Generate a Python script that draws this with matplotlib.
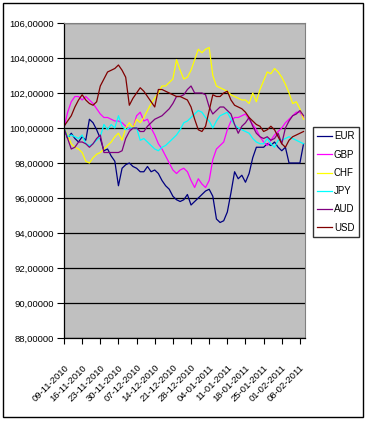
import matplotlib
matplotlib.use("Agg")
import matplotlib.pyplot as plt
from matplotlib.patches import Rectangle

plt.rcParams['font.family'] = ['Liberation Sans', 'DejaVu Sans']

tick_labels = ["09-11-2010", "16-11-2010", "23-11-2010", "30-11-2010", "07-12-2010",
               "14-12-2010", "21-12-2010", "28-12-2010", "04-01-2011", "11-01-2011",
               "18-01-2011", "25-01-2011", "01-02-2011", "08-02-2011"]

eur = [100.0, 99.4, 99.7, 99.4, 99.2, 99.5, 99.3, 100.5, 100.3, 99.9,
       99.4, 98.7, 98.8, 98.4, 98.1, 96.7, 97.7, 97.9, 98.0, 97.8,
       97.7, 97.5, 97.5, 97.8, 97.5, 97.6, 97.4, 97.0, 96.7, 96.5,
       96.1, 95.9, 95.8, 95.9, 96.2, 95.6, 95.8, 96.0, 96.2, 96.4,
       96.5, 96.1, 94.8, 94.6, 94.7, 95.2, 96.3, 97.5, 97.1, 97.3,
       96.9, 97.4, 98.3, 98.9, 98.9, 98.9, 99.1, 99.0, 99.2, 98.9,
       98.7, 98.9, 98.0, 98.0, 98.0, 98.0, 99.1]
gbp = [100.0, 100.9, 101.5, 101.8, 101.8, 101.6, 101.8, 101.6, 101.4, 101.1,
       100.8, 100.6, 100.6, 100.5, 100.4, 100.4, 100.3, 100.1, 99.9, 100.0,
       100.7, 100.9, 100.4, 100.5, 100.0, 99.6, 99.1, 98.8, 98.4, 98.0,
       97.6, 97.4, 97.6, 97.7, 97.5, 97.0, 96.6, 97.1, 96.8, 96.6,
       97.0, 98.2, 98.8, 99.0, 99.2, 99.9, 100.4, 100.6, 100.6, 100.7,
       100.8, 100.5, 100.2, 99.9, 99.5, 99.2, 99.0, 99.3, 99.6, 99.8,
       100.0, 100.3, 100.5, 100.7, 100.9, 100.9, 100.6]
chf = [100.0, 99.6, 99.1, 98.9, 98.8, 98.6, 98.1, 98.0, 98.3, 98.5,
       98.6, 98.8, 99.0, 99.2, 99.5, 99.7, 99.3, 100.0, 100.3, 100.0,
       100.5, 100.3, 100.6, 101.0, 101.4, 101.7, 102.0, 102.4, 102.4, 102.6,
       102.8, 103.9, 103.3, 102.8, 102.9, 103.3, 103.9, 104.5, 104.3, 104.5,
       104.6, 103.0, 102.4, 102.3, 102.2, 102.1, 101.9, 101.8, 101.7, 101.6,
       101.6, 101.4, 102.0, 101.5, 102.2, 102.7, 103.2, 103.1, 103.4, 103.2,
       102.9, 102.5, 102.0, 101.4, 101.5, 101.1, 100.5]
jpy = [100.0, 99.5, 99.6, 99.5, 99.4, 99.6, 99.1, 99.0, 99.1, 99.3,
       99.5, 100.2, 99.9, 100.2, 100.0, 100.7, 100.1, 99.9, 100.0, 100.0,
       100.0, 99.3, 99.4, 99.2, 99.0, 98.8, 98.7, 98.9, 99.0, 99.2,
       99.4, 99.6, 99.9, 100.3, 100.4, 100.6, 100.8, 101.0, 100.9, 100.6,
       100.4, 100.0, 100.4, 100.7, 100.8, 100.9, 100.5, 100.2, 100.0, 99.9,
       99.8, 99.7, 99.4, 99.2, 99.1, 99.1, 99.4, 99.1, 98.9, 99.3,
       99.3, 99.4, 99.5, 99.4, 99.3, 99.2, 99.1]
aud = [100.0, 99.4, 98.8, 98.9, 99.2, 99.2, 99.1, 98.9, 99.1, 99.4,
       99.6, 98.6, 98.6, 98.6, 98.6, 98.6, 98.7, 99.4, 99.8, 100.0,
       100.0, 99.8, 99.8, 100.1, 100.3, 100.5, 100.6, 100.7, 100.9, 101.1,
       101.4, 101.8, 101.8, 101.9, 102.2, 102.4, 102.0, 102.0, 102.0, 101.9,
       101.2, 100.8, 101.0, 101.2, 101.2, 101.0, 100.8, 100.2, 99.7, 100.1,
       100.3, 100.6, 100.1, 99.7, 99.5, 99.4, 99.5, 99.3, 99.4, 99.7,
       99.1, 100.0, 100.4, 100.7, 100.8, 101.0, 100.7]
usd = [100.1, 100.4, 100.7, 101.2, 101.6, 101.9, 101.6, 101.4, 101.3, 101.5,
       102.4, 102.8, 103.2, 103.3, 103.4, 103.6, 103.3, 102.9, 101.3, 101.7,
       102.0, 102.3, 102.1, 101.8, 101.5, 101.2, 102.2, 102.2, 102.1, 102.0,
       101.9, 101.8, 101.8, 101.7, 101.6, 101.2, 100.5, 99.9, 99.8, 100.1,
       101.0, 101.9, 101.8, 101.8, 102.0, 102.1, 101.6, 101.3, 101.2, 101.1,
       100.9, 100.6, 100.4, 100.2, 100.1, 99.8, 99.9, 100.1, 99.9, 99.5,
       99.1, 98.9, 99.3, 99.5, 99.6, 99.7, 99.8]

series_names = ["EUR", "GBP", "CHF", "JPY", "AUD", "USD"]
series_values = [eur, gbp, chf, jpy, aud, usd]
colors = ["#000080", "#FF00FF", "#FFFF00", "#00FFFF", "#800080", "#800000"]

W, H = 369, 424
fig = plt.figure(figsize=(W / 100, H / 100), dpi=100)
fig.patch.set_facecolor("white")

ax = fig.add_axes([64 / W, 1 - 338 / H, (305 - 64) / W, (338 - 23) / H])
ax.set_facecolor("#C0C0C0")

n = len(eur)
xs = list(range(n))
lines = []
for name, vals, c in zip(series_names, series_values, colors):
    ln, = ax.plot(xs, vals, color=c, lw=0.9, label=name)
    lines.append(ln)

ax.set_ylim(88, 106)
ax.set_yticks(range(88, 107, 2))
ax.set_yticklabels([f"{v},00000" for v in range(88, 107, 2)], fontsize=6.8)
ax.set_xlim(0, 66.4)
ax.set_xticks(range(0, 5 * len(tick_labels), 5))
ax.set_xticklabels(tick_labels, rotation=45, ha="right", va="top",
                   rotation_mode="anchor", fontsize=6.8)
for lbl in ax.get_xticklabels():
    lbl.set_x(lbl.get_position()[0])
ax.tick_params(axis="y", length=5, width=0.8, pad=2, direction="out")
ax.tick_params(axis="x", length=4, width=0.8, pad=14, direction="out")
ax.yaxis.grid(True, color="black", lw=0.9)
ax.set_axisbelow(True)
for s in ["left", "bottom"]:
    ax.spines[s].set_color("black")
    ax.spines[s].set_linewidth(0.9)
for s in ["top", "right"]:
    ax.spines[s].set_color("#808080")
    ax.spines[s].set_linewidth(0.8)

leg = fig.legend(handles=lines, labels=series_names, loc="upper left",
                 bbox_to_anchor=(313 / W, 1 - 127 / H), fontsize=7.0,
                 frameon=True, fancybox=False, handlelength=1.5, handletextpad=0.2,
                 labelspacing=0.85, borderpad=0.45, borderaxespad=0)
leg.get_frame().set_edgecolor("black")
leg.get_frame().set_linewidth(1.0)

fig.patches.append(Rectangle((3 / W, 1 - 417 / H), (363 - 3) / W, (417 - 3) / H,
                             transform=fig.transFigure, fill=False,
                             edgecolor="black", lw=1.0))

fig.savefig("out.png", dpi=100)
